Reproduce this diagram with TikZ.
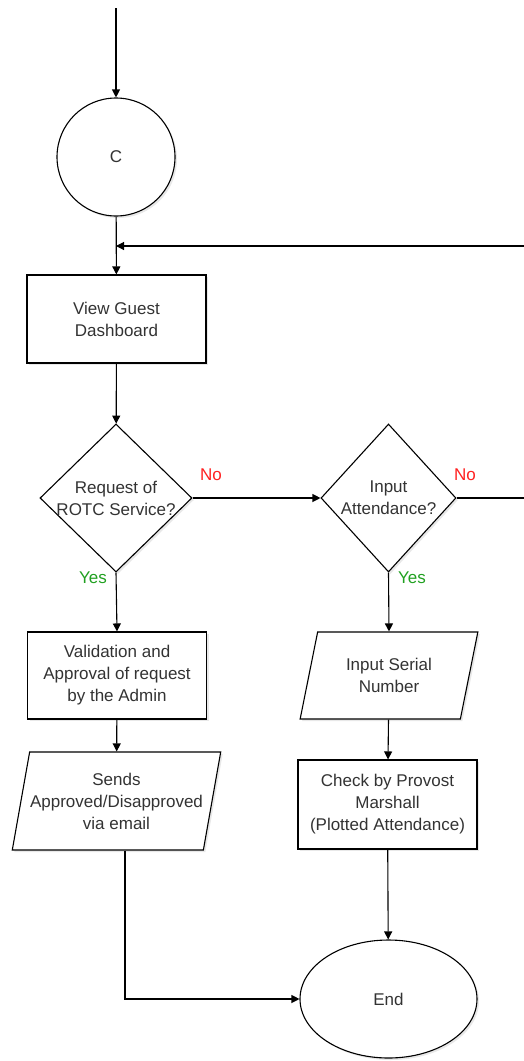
\documentclass[tikz,border=0pt]{standalone}
\usepackage{fontspec}
\setmainfont{Liberation Sans}
\usepackage{tikz}
\usetikzlibrary{shapes.geometric, positioning, arrows.meta, shadows}

\definecolor{txtgray}{HTML}{333333}
\definecolor{norex}{HTML}{FF2020}
\definecolor{yesgreen}{HTML}{20A020}

\tikzset{
  base/.style={draw=black, line width=1.1pt, fill=white, text=txtgray, align=center,
    font=\fontsize{17}{22}\selectfont, inner sep=0pt,
    drop shadow={opacity=0.18, shadow xshift=2pt, shadow yshift=-2pt}},
  procbox/.style={base, rectangle, minimum width=179pt, minimum height=88pt},
  iobox/.style={base, trapezium, trapezium left angle=73, trapezium right angle=107,
    trapezium stretches=true, minimum height=98pt},
  decide/.style={base, diamond, minimum height=148pt},
  connector/.style={base, circle, minimum size=118pt},
  terminal/.style={base, ellipse, minimum width=177pt, minimum height=118pt},
  arr/.style={line width=1.1pt, -{Triangle[length=8pt,width=8pt]}},
  plain/.style={line width=1.1pt},
  nolbl/.style={text=norex, font=\fontsize{17}{20}\selectfont},
  yeslbl/.style={text=yesgreen, font=\fontsize{17}{20}\selectfont}
}

\begin{document}
\begin{tikzpicture}[x=1pt, y=-1pt]
  \useasboundingbox (0,0) rectangle (524,1061);

  % left column
  \coordinate (start) at (116,8);
  \node[connector] (C) at (116,157) {C};
  \coordinate (join) at (116,246);
  \coordinate (loopin) at (524,246);
  \node[procbox] (dash) at (116.5,319) {View Guest\\Dashboard};
  \node[decide, minimum width=152pt, label={[text=txtgray, align=center, font=\fontsize{17}{22}\selectfont]center:Request of\\ROTC Service?}] (req) at (116,498) {};
  \node[procbox, minimum height=87pt] (valid) at (117,675.5) {Validation and\\Approval of request\\by the Admin};
  \node[iobox, minimum width=209pt] (sends) at (116.5,801) {Sends\\Approved/Disapproved\\via email};

  % right column
  \node[decide, minimum width=135pt, label={[text=txtgray, align=center, font=\fontsize{17}{22}\selectfont]center:Input\\Attendance?}] (att) at (388.5,498) {};
  \coordinate (noout) at (524,498);
  \node[iobox, minimum width=178pt, minimum height=87pt] (serial) at (389,675.5) {Input Serial\\Number};
  \node[procbox, minimum height=89pt] (check) at (387.5,804.5) {Check by Provost\\Marshall\\(Plotted Attendance)};
  \node[terminal] (end) at (388.5,999) {End};

  % connectors
  \draw[arr] (start) -- (C);
  \draw[arr] (C) -- (dash);
  \draw[arr] (loopin) -- (join);
  \draw[arr] (dash) -- (req);
  \draw[arr] (req.east) -- (att.west);
  \draw[plain] (att.east) -- (noout);
  \draw[arr] (req.south) -- (valid.north);
  \draw[arr] (att.south) -- (serial.north);
  \draw[arr] (valid) -- (sends);
  \draw[arr] (serial) -- (check);
  \draw[arr] (check) -- (end);
  \draw[arr] ([xshift=8.5pt]sends.south) |- (end.west);

  % labels
  \node[nolbl] (no1) at (211,475) {No};
  \node[nolbl] (no2) at (465,475) {No};
  \node[yeslbl] (yes1) at (93,578) {Yes};
  \node[yeslbl] (yes2) at (412,578) {Yes};
\end{tikzpicture}
\end{document}
